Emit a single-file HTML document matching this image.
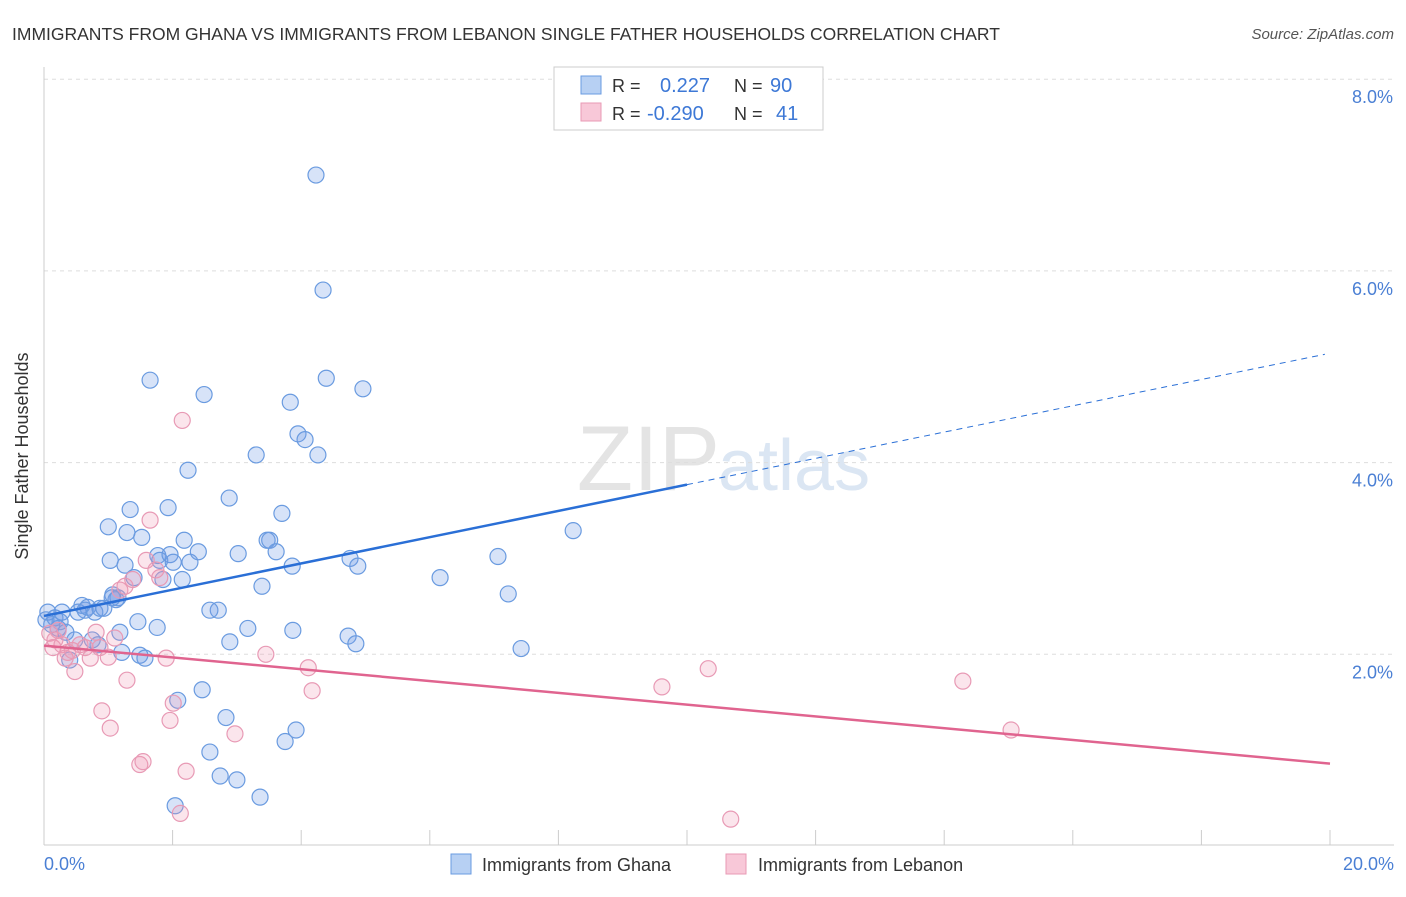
<!DOCTYPE html>
<html><head><meta charset="utf-8"><style>
body{margin:0;background:#fff;font-family:"Liberation Sans",sans-serif;}
svg text{font-family:"Liberation Sans",sans-serif;}
</style></head><body>
<svg id="chart" width="1406" height="892" xmlns="http://www.w3.org/2000/svg">
<text x="12" y="40" font-size="17.5" fill="#333">IMMIGRANTS FROM GHANA VS IMMIGRANTS FROM LEBANON SINGLE FATHER HOUSEHOLDS CORRELATION CHART</text>
<text x="1394" y="39" font-size="15" fill="#555" font-style="italic" text-anchor="end">Source: ZipAtlas.com</text>
<text x="720" y="490" font-size="92" fill="#e4e4e4" text-anchor="end" font-family="Liberation Serif">ZIP</text>
<text x="718" y="490" font-size="72" fill="#dbe6f3">atlas</text>
<g id="grid"></g>
<line x1="44" y1="67" x2="44" y2="845" stroke="#ccc"/>
<line x1="44" y1="845" x2="1394" y2="845" stroke="#ccc"/>
<g id="xticks"></g>
<text x="28" y="456" font-size="18" fill="#333" text-anchor="middle" transform="rotate(-90 28 456)">Single Father Households</text>
<text x="44" y="870" font-size="18" fill="#4a7fd4">0.0%</text>
<text x="1394" y="870" font-size="18" fill="#4a7fd4" text-anchor="end">20.0%</text>
<g id="points"></g>
<g id="trends"></g>
<g>
<rect x="554" y="67" width="269" height="63" fill="#fff" stroke="#ccc"/>
<rect x="581" y="76" width="20" height="18" fill="#b7d0f3" stroke="#6a9be0"/>
<rect x="581" y="103" width="20" height="18" fill="#f8c8d8" stroke="#e89ab5"/>
<text x="612" y="92" font-size="18" fill="#333">R =</text>
<text x="660" y="92" font-size="20" fill="#3d78d6">0.227</text>
<text x="734" y="92" font-size="18" fill="#333">N =</text>
<text x="770" y="92" font-size="20" fill="#3d78d6">90</text>
<text x="612" y="120" font-size="18" fill="#333">R =</text>
<text x="647" y="120" font-size="20" fill="#3d78d6">-0.290</text>
<text x="734" y="120" font-size="18" fill="#333">N =</text>
<text x="776" y="120" font-size="20" fill="#3d78d6">41</text>
</g>
<g>
<rect x="451" y="854" width="20" height="20" fill="#b7d0f3" stroke="#6a9be0"/>
<text x="482" y="871" font-size="18" fill="#333">Immigrants from Ghana</text>
<rect x="726" y="854" width="20" height="20" fill="#f8c8d8" stroke="#e89ab5"/>
<text x="758" y="871" font-size="18" fill="#333">Immigrants from Lebanon</text>
</g>
</svg>
<script>
const yTicks=[2,4,6,8];
const xTickVals=[0,2,4,6,8,10,12,14,16,18,20];
const ghanaPx=[[48,612],[52,625],[55,618],[58,628],[62,612],[66,632],[70,660],[75,640],[78,612],[82,605],[85,610],[88,607],[92,640],[95,612],[98,645],[100,608],[104,608],[108,527],[110,560],[113,595],[116,600],[118,598],[120,632],[122,652],[125,565],[127,533],[130,510],[134,578],[138,622],[140,655],[142,537],[145,658],[150,380],[157,627],[158,556],[160,560],[163,580],[168,508],[170,555],[173,562],[178,700],[182,580],[184,540],[188,470],[190,562],[198,552],[202,690],[204,395],[210,752],[218,610],[220,776],[226,718],[229,498],[230,642],[237,780],[238,554],[248,628],[256,455],[260,797],[262,586],[267,540],[270,540],[276,552],[282,513],[285,742],[290,402],[292,566],[293,630],[296,730],[298,434],[305,440],[316,175],[318,455],[323,290],[326,378],[348,636],[350,558],[356,644],[358,566],[363,389],[440,578],[498,557],[508,594],[521,649],[573,531],[175,806],[210,610],[46,620],[60,622],[112,598]];
const lebanonPx=[[50,633],[53,648],[55,640],[58,630],[62,645],[65,658],[68,652],[72,650],[75,672],[80,645],[85,648],[90,658],[96,632],[100,648],[102,711],[108,657],[110,728],[115,638],[120,590],[125,586],[127,680],[133,580],[140,765],[143,762],[146,560],[150,520],[156,570],[160,578],[166,658],[170,720],[173,703],[180,813],[182,420],[186,771],[235,734],[266,654],[308,668],[312,691],[662,687],[708,669],[731,819],[963,681],[1011,730]];
// convert reading to data values (percent)
const ghanaX=ghanaPx.map(p=>+((p[0]-44)/64.3).toFixed(2));
const ghanaY=ghanaPx.map(p=>+((846-p[1])/95.85).toFixed(2));
const lebanonX=lebanonPx.map(p=>+((p[0]-44)/64.3).toFixed(2));
const lebanonY=lebanonPx.map(p=>+((846-p[1])/95.85).toFixed(2));
const ghanaTrend=[[0,2.4],[10,3.77],[19.92,5.13]];
const lebanonTrend=[[0,2.09],[20,0.86]];
const NS="http://www.w3.org/2000/svg";
const sx=v=>44+v*64.3, sy=v=>846-v*95.85;
function mk(t,a,parent){const e=document.createElementNS(NS,t);for(const k in a)e.setAttribute(k,a[k]);parent.appendChild(e);return e;}
const grid=document.getElementById('grid');
yTicks.forEach(v=>{
 const l=mk('line',{x1:44,x2:1394,y1:sy(v),y2:sy(v),stroke:'#ddd','stroke-dasharray':'4,4'},grid);
 
 
 const t=mk('text',{x:1393,y:sy(v)+24,'font-size':18,fill:'#4a7fd4','text-anchor':'end'},grid);
 t.textContent=v.toFixed(1)+'%';
 
 
});
const xt=document.getElementById('xticks');
xTickVals.forEach(v=>{
 const l=mk('line',{x1:sx(v),x2:sx(v),y1:830,y2:845,stroke:'#ccc'},xt);
 
 
});
const pts=document.getElementById('points');
ghanaX.forEach((x,i)=>{
 const c=mk('circle',{cx:sx(x),cy:sy(ghanaY[i]),r:8,fill:'rgba(110,155,230,0.28)',stroke:'#6a9be0','stroke-width':1.2},pts);
 
 
});
lebanonX.forEach((x,i)=>{
 const c=mk('circle',{cx:sx(x),cy:sy(lebanonY[i]),r:8,fill:'rgba(240,150,180,0.25)',stroke:'#e89ab5','stroke-width':1.2},pts);
 
 
});
const tr=document.getElementById('trends');
const g1=mk('line',{x1:sx(ghanaTrend[0][0]),y1:sy(ghanaTrend[0][1]),x2:sx(ghanaTrend[1][0]),y2:sy(ghanaTrend[1][1]),stroke:'#2a6fd6','stroke-width':2.5},tr);


const g2=mk('line',{x1:sx(ghanaTrend[1][0]),y1:sy(ghanaTrend[1][1]),x2:sx(ghanaTrend[2][0]),y2:sy(ghanaTrend[2][1]),stroke:'#2a6fd6','stroke-width':1,'stroke-dasharray':'6,5'},tr);


const l1=mk('line',{x1:sx(lebanonTrend[0][0]),y1:sy(lebanonTrend[0][1]),x2:sx(lebanonTrend[1][0]),y2:sy(lebanonTrend[1][1]),stroke:'#e0648f','stroke-width':2.5},tr);


</script>
</body></html>
